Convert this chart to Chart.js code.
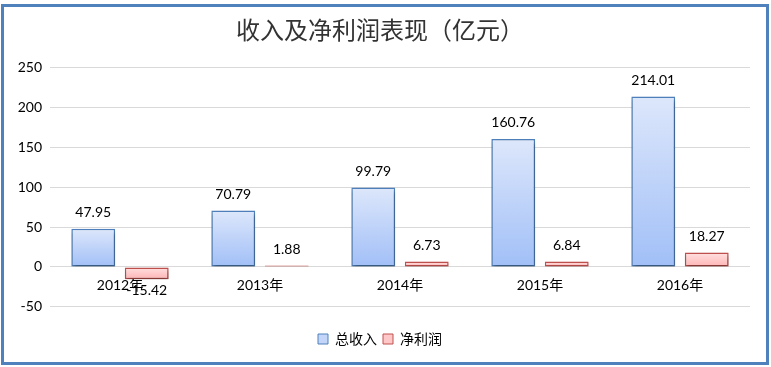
<!DOCTYPE html>
<html>
<head>
<meta charset="utf-8">
<script src="https://cdn.jsdelivr.net/npm/chart.js@4.4.1/dist/chart.umd.min.js"></script>
<style>
  body { margin: 0; background: #fff; }
  #frame {
    position: absolute; left: 1px; top: 4px;
    width: 768px; height: 361px;
    box-sizing: border-box;
    border: 3px solid #4f81bd;
    background: #fff;
  }
  canvas { display: block; }
</style>
</head>
<body>
<div id="frame"><canvas id="chart" width="762" height="355"></canvas></div>
<script>
// data
var categories = ["2012年", "2013年", "2014年", "2015年", "2016年"];
var revenue = [47.95, 70.79, 99.79, 160.76, 214.01];
var netProfit = [-15.42, 1.88, 6.73, 6.84, 18.27];
var yMin = -50, yMax = 250, yStep = 50;

var FONT = "'Lato', 'Noto Sans CJK SC', sans-serif";

function barGradient(top, bottom) {
	return function (c) {
		if (c.type !== "data") return bottom;
		var y = c.chart.scales.y;
		if (!y) return bottom;
		var v = c.raw;
		var p1 = y.getPixelForValue(Math.max(v, 0));
		var p2 = y.getPixelForValue(Math.min(v, 0));
		if (!isFinite(p1) || !isFinite(p2) || p1 === p2) return bottom;
		var g = c.chart.ctx.createLinearGradient(0, p1, 0, p2);
		g.addColorStop(0, top);
		g.addColorStop(1, bottom);
		return g;
	};
}

var shadowPlugin = {
	id: "barShadow",
	beforeDatasetsDraw: function (chart) {
		var ctx = chart.ctx;
		ctx.save();
		ctx.shadowColor = "rgba(0,0,0,0.35)";
		ctx.shadowBlur = 4;
		ctx.shadowOffsetX = 1;
		ctx.shadowOffsetY = 3;
	},
	afterDatasetsDraw: function (chart) {
		chart.ctx.restore();
	}
};

var labelPlugin = {
	id: "valueLabels",
	afterDatasetsDraw: function (chart) {
		var ctx = chart.ctx;
		ctx.save();
		ctx.font = "14px " + FONT;
		ctx.fillStyle = "#000";
		ctx.textAlign = "center";
		chart.data.datasets.forEach(function (ds, i) {
			chart.getDatasetMeta(i).data.forEach(function (bar, j) {
				var v = ds.data[j];
				var txt = v.toFixed(2);
				if (v >= 0) {
					ctx.textBaseline = "bottom";
					ctx.fillText(txt, bar.x, bar.y - 9);
				} else {
					ctx.textBaseline = "top";
					ctx.fillText(txt, bar.x, bar.y + 4);
				}
			});
		});
		ctx.restore();
	}
};

var ctx = document.getElementById("chart");

var chart = new Chart(ctx, {
	type: "bar",
	data: {
		labels: categories,
		datasets: [
			{
				label: "总收入",
				data: revenue,
				backgroundColor: barGradient("#dde7fb", "#a1bff7"),
				borderColor: "#4f81bd",
				borderWidth: 1.5,
				borderSkipped: false
			},
			{
				label: "净利润",
				data: netProfit,
				backgroundColor: barGradient("#ffe1e1", "#ffb4b4"),
				borderColor: "#c0504d",
				borderWidth: 1.5,
				borderSkipped: false
			}
		]
	},
	plugins: [shadowPlugin, labelPlugin],
	options: {
		responsive: false,
		animation: false,
		datasets: {
			bar: { categoryPercentage: 0.764, barPercentage: 0.82 }
		},
		layout: { padding: { left: 6, right: 16, top: 0, bottom: 6 } },
		plugins: {
			title: {
				display: true,
				text: "收入及净利润表现（亿元）",
				color: "#333",
				font: { size: 24, family: "'Noto Sans CJK SC', sans-serif", weight: "normal" },
				padding: { top: 8, bottom: 24 }
			},
			legend: {
				position: "bottom",
				title: {
					display: true,
					text: " ",
					font: { size: 1 },
					padding: { top: 0, bottom: 18 }
				},
				labels: {
					color: "#000",
					font: { size: 14, family: FONT },
					boxWidth: 10,
					boxHeight: 10,
					padding: 6,
					generateLabels: function (chart) {
						var fills = ["#c3d5f8", "#ffc8c8"];
						var strokes = ["#4f81bd", "#c0504d"];
						return chart.data.datasets.map(function (ds, i) {
							return {
								text: ds.label,
								fillStyle: fills[i],
								strokeStyle: strokes[i],
								lineWidth: 1,
								datasetIndex: i,
								fontColor: "#000"
							};
						});
					}
				}
			},
			tooltip: { enabled: false }
		},
		scales: {
			x: {
				position: { y: 0 },
				grid: { display: false },
				border: { display: false },
				ticks: { color: "#000", font: { size: 14, family: FONT }, padding: 2 }
			},
			y: {
				min: yMin,
				max: yMax,
				afterFit: function (scale) { scale.width = 40; },
				ticks: { stepSize: yStep, color: "#000", font: { size: 14, family: FONT }, padding: 8 },
				grid: { color: "#d9d9d9", lineWidth: 1, drawTicks: false },
				border: { display: false }
			}
		}
	}
});
</script>
</body>
</html>
